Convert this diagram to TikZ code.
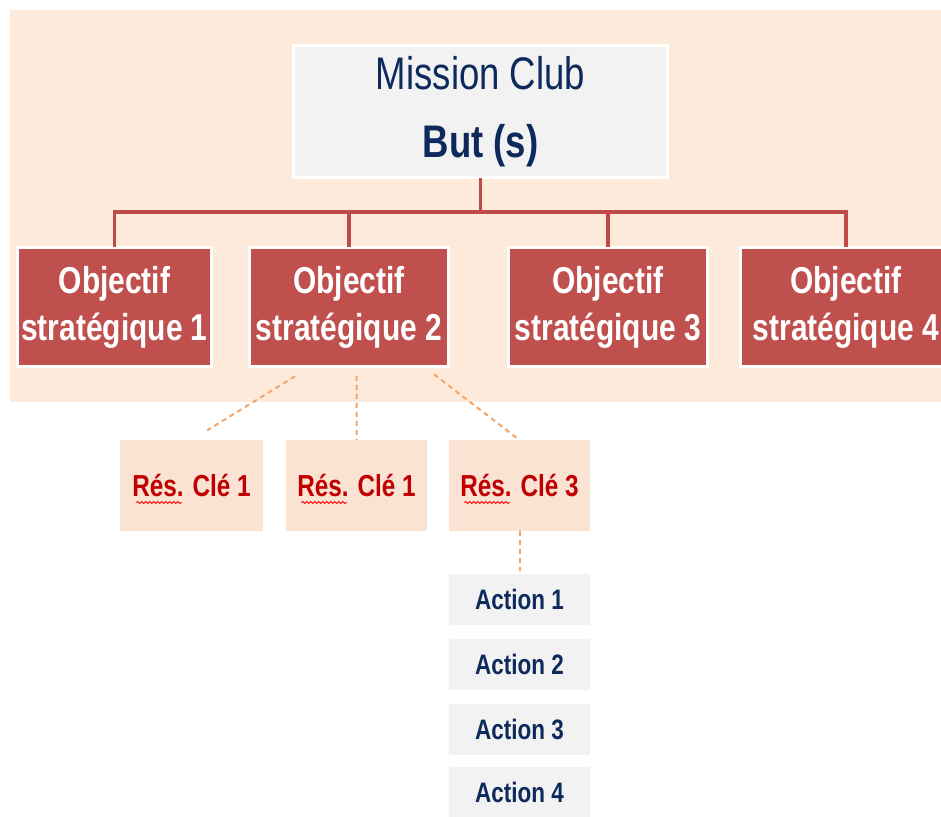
\documentclass[tikz,border=0pt]{standalone}
\usepackage{fontspec}
\setmainfont{Liberation Sans}[FakeStretch=0.8]
\usetikzlibrary{calc,decorations.pathmorphing}
\definecolor{bgpeach}{HTML}{FDEADB}
\definecolor{respeach}{HTML}{FBE3D3}
\definecolor{objred}{HTML}{C0504D}
\definecolor{linered}{HTML}{BE4B48}
\definecolor{navy}{HTML}{0E2A5C}
\definecolor{resred}{HTML}{C00000}
\definecolor{boxgray}{HTML}{F2F2F2}
\definecolor{dashorange}{HTML}{F2A66A}
\tikzset{
 missionbox/.style={fill=boxgray, draw=white, line width=0.06cm, minimum width=7.5cm, minimum height=2.66cm, inner sep=0pt, outer sep=0pt, text=navy, align=center, font=\fontsize{26}{38.7}\selectfont},
 objbox/.style={fill=objred, draw=white, line width=0.06cm, minimum height=2.4cm, inner sep=0pt, outer sep=0pt, text=white, align=center, font=\fontsize{21.3}{26.7}\selectfont\bfseries},
 resbox/.style={fill=respeach, minimum height=1.82cm, inner sep=0pt, outer sep=0pt, text=resred, font=\fontsize{17.3}{21}\selectfont\bfseries},
 actbox/.style={fill=boxgray, minimum width=2.82cm, minimum height=1.02cm, inner sep=0pt, outer sep=0pt, text=navy, font=\fontsize{16}{19}\selectfont\bfseries},
 conn/.style={draw=linered, line width=0.07cm},
 dashline/.style={draw=dashorange, line width=0.04cm, dash pattern=on 0.1cm off 0.08cm},
 squiggle/.style={draw=red, line width=0.02cm, decorate, decoration={snake, amplitude=0.02cm, segment length=0.08cm}},
}
\begin{document}
\begin{tikzpicture}[x=0.02cm,y=-0.02cm]
\useasboundingbox (0,0) rectangle (941,816);
\fill[white] (0,0) rectangle (941,816);
\fill[bgpeach] (10,10) rectangle (941,402);

% mission
\node[missionbox] (m) at (480.5,111.5) {Mission Club\\\textbf{But (s)}};

% objectives
\node[objbox, minimum width=3.9cm] (o1) at (114.5,307) {Objectif\\strat\'egique 1};
\node[objbox, minimum width=4cm] (o2) at (349,307) {Objectif\\strat\'egique 2};
\node[objbox, minimum width=4cm] (o3) at (608,307) {Objectif\\strat\'egique 3};
\node[objbox, minimum width=4.24cm] (o4) at (846,307) {Objectif\\strat\'egique 4};

% tree connectors
\coordinate (bus) at (480.5,212);
\draw[conn] (m.south) -- (bus);
\draw[conn] (o1.north) |- (bus) -| (o4.north);
\draw[conn] (o2.north) -- (o2.north |- bus);
\draw[conn] (o3.north) -- (o3.north |- bus);

% key results
\node[resbox, minimum width=2.86cm] (r1) at (191.5,485.5) {R\'es. Cl\'e 1};
\node[resbox, minimum width=2.82cm] (r2) at (356.5,485.5) {R\'es. Cl\'e 1};
\node[resbox, minimum width=2.82cm] (r3) at (519.5,485.5) {R\'es. Cl\'e 3};

\foreach \r in {r1,r2,r3}{
  \draw[squiggle] ($(\r)+(-55,17)$) -- ++(45,0);
}

% actions
\node[actbox] (a1) at (519.5,599) {Action 1};
\node[actbox] (a2) at (519.5,664) {Action 2};
\node[actbox] (a3) at (519.5,729) {Action 3};
\node[actbox] (a4) at (519.5,792) {Action 4};

% dashed connectors
\draw[dashline, shorten <=0.35cm, shorten >=0.37cm] ([xshift=-0.78cm]o2.south) -- (r1.north);
\draw[dashline, shorten <=0.18cm] ([xshift=0.15cm]o2.south) -- (r2.north);
\draw[dashline, shorten <=0.24cm] ([xshift=1.51cm]o2.south) -- (r3.north);
\draw[dashline, shorten >=0.06cm] (r3.south) -- (a1.north);
\end{tikzpicture}
\end{document}
